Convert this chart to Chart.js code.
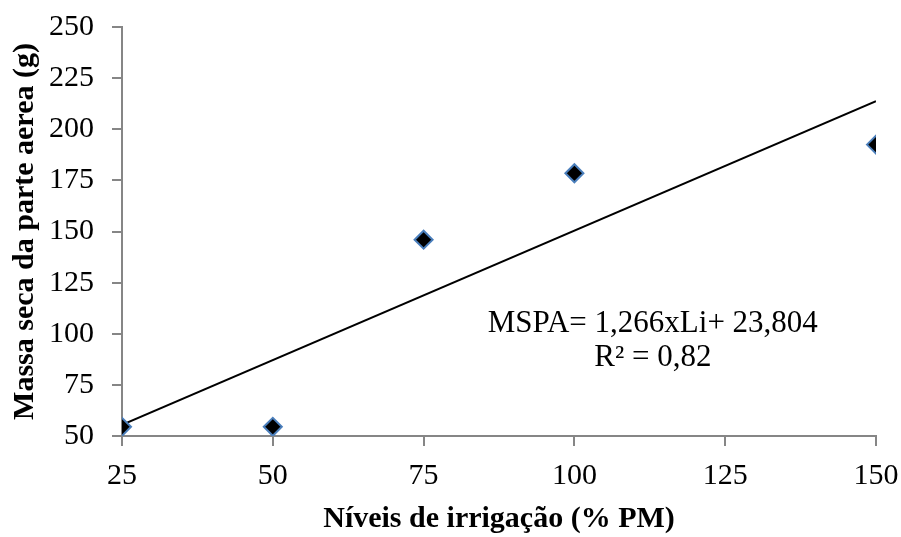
<!DOCTYPE html>
<html>
<head>
<meta charset="utf-8">
<script src="https://cdn.jsdelivr.net/npm/chart.js@4"></script>
<style>
  html, body { margin: 0; padding: 0; background: #fff; }
  #wrap { width: 901px; height: 537px; }
</style>
</head>
<body>
<div id="wrap"><canvas id="c" width="901" height="537"></canvas></div>
<script>
// data
var niveis = [25, 50, 75, 100, 150];
var massa = [54.5, 54.5, 146, 178.5, 192.5];
// fitted line MSPA = 1,266xLi + 23,804, endpoints at 25 and 150
var trendX = [25, 150];
var trendY = [55.5, 213.7];
var xTicks = [25, 50, 75, 100, 125, 150];
var yTicks = [50, 75, 100, 125, 150, 175, 200, 225, 250];
var eqLines = ["MSPA= 1,266xLi+ 23,804", "R\u00b2 = 0,82"];

var serif = "'Liberation Serif', 'Times New Roman', serif";
var axisGrey = "#868686";

var eqPlugin = {
  id: "eq",
  afterDatasetsDraw: function (chart) {
    var c = chart.ctx, xs = chart.scales.x, ys = chart.scales.y;
    var cx = xs.getPixelForValue(113), cy = ys.getPixelForValue(104.6);
    c.save();
    c.fillStyle = "#000";
    c.font = "31px " + serif;
    c.textAlign = "center";
    c.textBaseline = "middle";
    eqLines.forEach(function (t, i) { c.fillText(t, cx, cy + i * 34); });
    c.restore();
  }
};

new Chart(document.getElementById("c").getContext("2d"), {
  type: "scatter",
  data: {
    datasets: [{
      type: "line",
      data: trendX.map(function (x, i) { return { x: x, y: trendY[i] }; }),
      borderColor: "#000",
      borderWidth: 2,
      pointRadius: 0,
      fill: false,
      order: 2
    }, {
      data: niveis.map(function (x, i) { return { x: x, y: massa[i] }; }),
      pointStyle: "rectRot",
      pointRadius: 9,
      pointHoverRadius: 9,
      backgroundColor: "#000",
      borderColor: "#4a7ebb",
      borderWidth: 2,
      order: 1
    }]
  },
  options: {
    responsive: false,
    animation: false,
    layout: { padding: { top: 27, right: 25, left: 0, bottom: 0 } },
    plugins: { legend: { display: false }, tooltip: { enabled: false } },
    scales: {
      x: {
        type: "linear",
        min: 25, max: 150,
        afterBuildTicks: function (s) { s.ticks = xTicks.map(function (v) { return { value: v }; }); },
        afterFit: function (s) { s.height = 101; s.paddingLeft = 0; s.paddingRight = 0; },
        grid: { drawOnChartArea: false, color: axisGrey, tickLength: 10, lineWidth: 2 },
        border: { color: axisGrey, width: 2 },
        ticks: { color: "#000", font: { family: serif, size: 30 }, padding: 12, maxRotation: 0 },
        title: { display: true, text: "N\u00edveis de irriga\u00e7\u00e3o (% PM)", color: "#000",
                 font: { family: serif, size: 30, weight: "bold" }, padding: { top: 0, bottom: 0 } }
      },
      y: {
        min: 50, max: 250,
        afterBuildTicks: function (s) { s.ticks = yTicks.map(function (v) { return { value: v }; }); },
        afterFit: function (s) { s.width = 122; s.paddingTop = 0; s.paddingBottom = 0; },
        grid: { drawOnChartArea: false, color: axisGrey, tickLength: 10, lineWidth: 2 },
        border: { color: axisGrey, width: 2 },
        ticks: { color: "#000", font: { family: serif, size: 30 }, padding: 18 },
        title: { display: true, text: "Massa seca da parte aerea (g)", color: "#000",
                 font: { family: serif, size: 30, weight: "bold" }, padding: { top: 7, bottom: 0 } }
      }
    }
  },
  plugins: [eqPlugin]
});
</script>
</body>
</html>
